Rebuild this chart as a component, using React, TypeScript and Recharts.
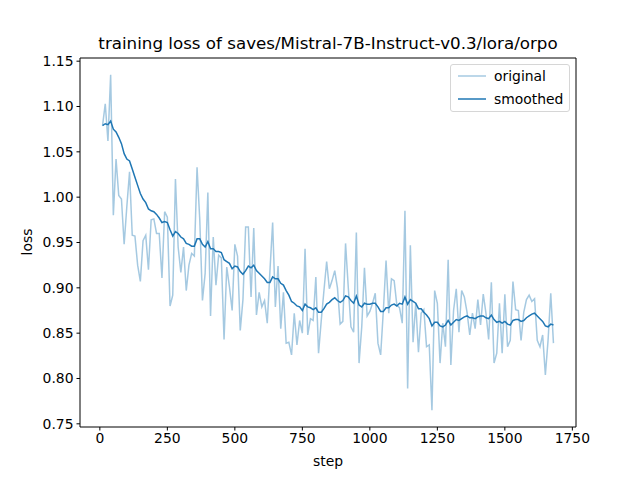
import React from 'react';
import { LineChart, Line, XAxis, YAxis } from 'recharts';

const steps = [
  10, 20, 30, 40, 50, 60, 70, 80, 90, 100, 110, 120, 130, 140, 150, 160, 170, 180, 190, 200,
  210, 220, 230, 240, 250, 260, 270, 280, 290, 300, 310, 320, 330, 340, 350, 360, 370, 380, 390, 400,
  410, 420, 430, 440, 450, 460, 470, 480, 490, 500, 510, 520, 530, 540, 550, 560, 570, 580, 590, 600,
  610, 620, 630, 640, 650, 660, 670, 680, 690, 700, 710, 720, 730, 740, 750, 760, 770, 780, 790, 800,
  810, 820, 830, 840, 850, 860, 870, 880, 890, 900, 910, 920, 930, 940, 950, 960, 970, 980, 990, 1000,
  1010, 1020, 1030, 1040, 1050, 1060, 1070, 1080, 1090, 1100, 1110, 1120, 1130, 1140, 1150, 1160, 1170, 1180, 1190, 1200,
  1210, 1220, 1230, 1240, 1250, 1260, 1270, 1280, 1290, 1300, 1310, 1320, 1330, 1340, 1350, 1360, 1370, 1380, 1390, 1400,
  1410, 1420, 1430, 1440, 1450, 1460, 1470, 1480, 1490, 1500, 1510, 1520, 1530, 1540, 1550, 1560, 1570, 1580, 1590, 1600,
  1610, 1620, 1630, 1640, 1650, 1660, 1670, 1680,
];

const originalLoss = [
  1.079, 1.103, 1.062, 1.135, 0.98, 1.042, 1.002, 0.998, 0.948, 0.99, 1.028, 0.958, 0.957, 0.925, 0.907, 0.952, 0.958, 0.92, 0.975, 0.976,
  0.96, 0.96, 0.911, 0.984, 0.978, 0.88, 0.892, 1.02, 0.945, 0.917, 0.945, 0.897, 0.925, 0.938, 0.935, 1.033, 0.976, 0.886, 0.916, 1.005,
  0.869, 0.956, 0.903, 0.936, 0.933, 0.843, 0.923, 0.901, 0.875, 0.948, 0.935, 0.853, 0.887, 0.967, 0.967, 0.89, 0.966, 0.87, 0.895, 0.879,
  0.886, 0.861, 0.919, 0.972, 0.879, 0.924, 0.855, 0.895, 0.839, 0.84, 0.826, 0.872, 0.837, 0.864, 0.85, 0.943, 0.848, 0.866, 0.864, 0.912,
  0.828, 0.864, 0.897, 0.929, 0.899, 0.908, 0.919, 0.9, 0.86, 0.863, 0.949, 0.901, 0.857, 0.851, 0.961, 0.817, 0.857, 0.922, 0.869, 0.874,
  0.883, 0.894, 0.839, 0.826, 0.875, 0.93, 0.872, 0.91, 0.908, 0.881, 0.878, 0.861, 0.985, 0.789, 0.947, 0.84, 0.883, 0.829, 0.872, 0.876,
  0.835, 0.837, 0.765, 0.897, 0.883, 0.817, 0.861, 0.835, 0.931, 0.815, 0.875, 0.899, 0.851, 0.897, 0.89, 0.873, 0.848, 0.872, 0.855, 0.887,
  0.859, 0.893, 0.872, 0.843, 0.906, 0.817, 0.828, 0.883, 0.828, 0.893, 0.835, 0.842, 0.907, 0.876, 0.875, 0.842, 0.873, 0.887, 0.892, 0.885,
  0.888, 0.842, 0.835, 0.848, 0.804, 0.842, 0.894, 0.839,
];

const smoothedLoss = [
  1.079, 1.081, 1.08, 1.084, 1.075, 1.072, 1.066, 1.059, 1.048, 1.042, 1.04, 1.031, 1.022, 1.013, 1.004, 0.998, 0.994, 0.987, 0.985, 0.984,
  0.981, 0.977, 0.972, 0.973, 0.972, 0.964, 0.957, 0.962, 0.96, 0.956, 0.954, 0.949, 0.948, 0.946, 0.946, 0.954, 0.954, 0.948, 0.945, 0.951,
  0.943, 0.943, 0.94, 0.94, 0.939, 0.931, 0.929, 0.927, 0.921, 0.924, 0.923, 0.918, 0.915, 0.919, 0.924, 0.922, 0.925, 0.919, 0.916, 0.913,
  0.91, 0.906, 0.906, 0.912, 0.91, 0.91, 0.905, 0.903, 0.897, 0.892, 0.885, 0.883, 0.88, 0.879, 0.875, 0.882, 0.879, 0.878, 0.876, 0.878,
  0.873, 0.873, 0.877, 0.882, 0.884, 0.887, 0.889, 0.886, 0.884, 0.886, 0.891, 0.89, 0.886, 0.883, 0.891, 0.881, 0.879, 0.883, 0.882, 0.882,
  0.883, 0.883, 0.879, 0.874, 0.874, 0.878, 0.878, 0.881, 0.882, 0.88, 0.883, 0.882, 0.89, 0.882, 0.887, 0.885, 0.883, 0.877, 0.877, 0.873,
  0.87, 0.866, 0.858, 0.862, 0.862, 0.858, 0.857, 0.859, 0.864, 0.859, 0.862, 0.865, 0.864, 0.866, 0.868, 0.869, 0.867, 0.867, 0.866, 0.868,
  0.869, 0.869, 0.867, 0.866, 0.87, 0.865, 0.862, 0.863, 0.861, 0.863, 0.86, 0.859, 0.864, 0.865, 0.865, 0.863, 0.864, 0.867, 0.869, 0.871,
  0.872, 0.869, 0.866, 0.863, 0.858, 0.857, 0.86, 0.859,
];

const xTicks = [0, 250, 500, 750, 1000, 1250, 1500, 1750];
const yTicks = [0.75, 0.8, 0.85, 0.9, 0.95, 1.0, 1.05, 1.1, 1.15];

const data = steps.map((step, i) => ({
  step,
  original: originalLoss[i],
  smoothed: smoothedLoss[i],
}));

const FONT = '"DejaVu Sans", sans-serif';
const BLUE = '#1f77b4';
const X_DOMAIN: [number, number] = [-73.5, 1763.5];
const Y_DOMAIN: [number, number] = [0.7465, 1.1535];
const tickStyle = { fill: '#000', fontSize: 13.9, fontFamily: FONT };

// plot box (matches the chart margins below)
const PLOT = { left: 80, top: 58, width: 496, height: 369 };

const legendItems = [
  { name: 'original', opacity: 0.4 },
  { name: 'smoothed', opacity: 1 },
];

function LegendBox() {
  return (
    <div
      style={{
        position: 'absolute',
        left: 450,
        top: 64,
        width: 118,
        height: 46,
        border: '1px solid #d6d6d6',
        borderRadius: 3,
        background: 'rgba(255,255,255,0.8)',
        fontSize: 13.9,
        color: '#000',
      }}
    >
      {legendItems.map((item, i) => (
        <div key={item.name} style={{ position: 'absolute', left: 0, top: 1 + i * 23, height: 20, width: 118 }}>
          <svg width={40} height={20} style={{ position: 'absolute', left: 0, top: 0 }}>
            <line x1={7} x2={35} y1={10} y2={10} stroke={BLUE} strokeOpacity={item.opacity} strokeWidth={1.5} />
          </svg>
          <span style={{ position: 'absolute', left: 43, top: 1, lineHeight: '18px' }}>{item.name}</span>
        </div>
      ))}
    </div>
  );
}

export default function App() {
  return (
    <div style={{ position: 'absolute', left: 0, top: 0, width: 640, height: 480, background: '#fff', fontFamily: FONT }}>
      <div
        style={{
          position: 'absolute',
          left: 80,
          width: 496,
          top: 32,
          lineHeight: '22px',
          textAlign: 'center',
          fontSize: 16.7,
          color: '#000',
        }}
      >
        training loss of saves/Mistral-7B-Instruct-v0.3/lora/orpo
      </div>
      <LineChart width={640} height={480} data={data} margin={{ top: 58, right: 64, bottom: 13, left: 20 }}>
        <XAxis
          dataKey="step"
          type="number"
          domain={X_DOMAIN}
          ticks={xTicks}
          allowDataOverflow
          height={40}
          stroke="#000"
          tickSize={3.5}
          tickMargin={3}
          tick={tickStyle}
          interval={0}
        />
        <YAxis
          type="number"
          domain={Y_DOMAIN}
          ticks={yTicks}
          allowDataOverflow
          width={60}
          stroke="#000"
          tickSize={3.5}
          tickMargin={3}
          tickFormatter={(v: number) => v.toFixed(2)}
          tick={tickStyle}
          interval={0}
        />
        <Line
          dataKey="original"
          name="original"
          stroke={BLUE}
          strokeOpacity={0.4}
          strokeWidth={1.5}
          dot={false}
          type="linear"
          isAnimationActive={false}
        />
        <Line
          dataKey="smoothed"
          name="smoothed"
          stroke={BLUE}
          strokeWidth={1.5}
          dot={false}
          type="linear"
          isAnimationActive={false}
        />
      </LineChart>
      {/* top and right spines */}
      <svg width={640} height={480} style={{ position: 'absolute', left: 0, top: 0, pointerEvents: 'none' }}>
        <polyline
          points={`${PLOT.left},${PLOT.top} ${PLOT.left + PLOT.width},${PLOT.top} ${PLOT.left + PLOT.width},${PLOT.top + PLOT.height}`}
          fill="none"
          stroke="#000"
          strokeWidth={1}
        />
      </svg>
      <LegendBox />
      <div style={{ position: 'absolute', left: 80, width: 496, top: 453, textAlign: 'center', fontSize: 13.9, color: '#000' }}>
        step
      </div>
      <div
        style={{
          position: 'absolute',
          left: 27,
          top: 242,
          transform: 'translate(-50%, -50%) rotate(-90deg)',
          fontSize: 13.9,
          color: '#000',
          whiteSpace: 'nowrap',
        }}
      >
        loss
      </div>
    </div>
  );
}
